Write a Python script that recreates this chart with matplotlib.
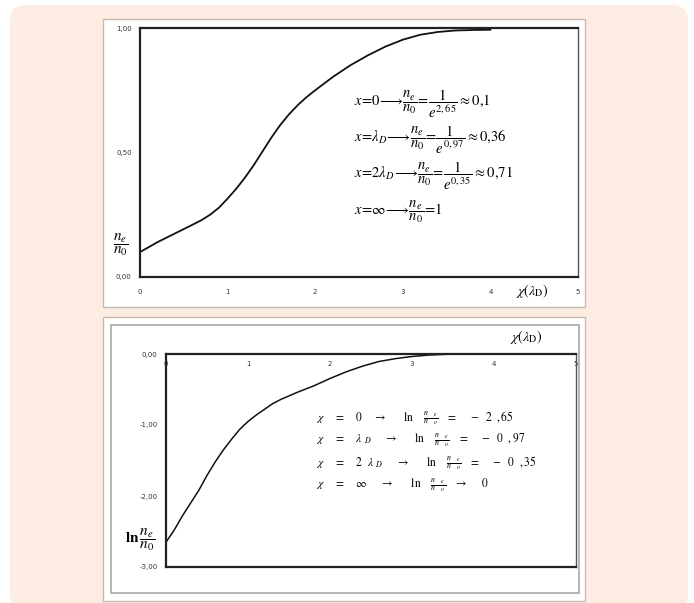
import matplotlib.pyplot as plt
from matplotlib.patches import FancyBboxPatch, Rectangle

plt.rcParams['mathtext.fontset'] = 'stix'

# top chart: n_e / n_0 against x in Debye lengths
top_x = [0, 0.2, 0.4, 0.6, 0.7, 0.8, 0.9, 1.0, 1.1, 1.2, 1.3, 1.4, 1.5, 1.6, 1.7,
         1.8, 1.9, 2.0, 2.2, 2.4, 2.6, 2.8, 3.0, 3.2, 3.4, 3.6, 3.8, 4.0]
top_y = [0.10, 0.14, 0.175, 0.21, 0.228, 0.25, 0.278, 0.315, 0.355, 0.40, 0.45,
         0.505, 0.56, 0.61, 0.653, 0.69, 0.722, 0.75, 0.803, 0.85, 0.89, 0.925,
         0.953, 0.973, 0.984, 0.99, 0.992, 0.993]
top_yticks = [0, 0.5, 1.0]
top_ylabels = ['0,00', '0,50', '1,00']

# bottom chart: ln(n_e / n_0)
bot_x = [0, 0.1, 0.2, 0.3, 0.4, 0.5, 0.6, 0.7, 0.8, 0.9, 1.0, 1.1, 1.2, 1.3, 1.4,
         1.5, 1.6, 1.8, 2.0, 2.2, 2.4, 2.6, 2.8, 3.0, 3.2, 3.4, 3.6, 3.8, 4.0]
bot_y = [-2.65, -2.48, -2.28, -2.10, -1.92, -1.71, -1.52, -1.35, -1.20, -1.06,
         -0.95, -0.86, -0.78, -0.70, -0.64, -0.59, -0.54, -0.45, -0.345, -0.25,
         -0.17, -0.105, -0.065, -0.035, -0.015, -0.005, 0, 0, 0]
bot_yticks = [-3, -2, -1, 0]
bot_ylabels = ['-3,00', '-2,00', '-1,00', '0,00']

xticks = [0, 1, 2, 3, 4, 5]

W, H = 694, 603
fig = plt.figure(figsize=(W / 100, H / 100), dpi=100)
fig.patch.set_facecolor('white')


def fx(px):
    return px / W


def fy(py):
    return 1 - py / H


# peach background with rounded corners, then white panels (behind the axes)
fig.patches.append(FancyBboxPatch((fx(10), fy(610)), fx(678), (610 - 5) / H,
                                  boxstyle='round,pad=0,rounding_size=0.025',
                                  transform=fig.transFigure, fc='#fcece1', ec='none',
                                  zorder=-10))
fig.patches.append(Rectangle((fx(103), fy(307)), fx(482), (307 - 19) / H,
                             transform=fig.transFigure, fc='white', ec='#c9b9b0', lw=1,
                             zorder=-9))
fig.patches.append(Rectangle((fx(103), fy(601)), fx(482), (601 - 317) / H,
                             transform=fig.transFigure, fc='white', ec='#c9b9b0', lw=1,
                             zorder=-9))
fig.patches.append(Rectangle((fx(111), fy(593)), fx(468), (593 - 325) / H,
                             transform=fig.transFigure, fc='white', ec='#a8a8a8', lw=1.2,
                             zorder=-8))

# ---- top chart ----
ax1 = fig.add_axes([fx(140), fy(277), fx(438), (277 - 28) / H])
ax1.patch.set_alpha(0)
ax1.plot(top_x, top_y, color='#111111', lw=1.3)
ax1.set_xlim(0, 5)
ax1.set_ylim(0, 1)
ax1.set_xticks(xticks)
ax1.set_yticks(top_yticks)
ax1.set_yticklabels(top_ylabels)
ax1.tick_params(length=0, labelsize=5, colors='#333333', pad=6)
ax1.tick_params(axis='x', pad=9)
for s in ['left', 'bottom', 'top']:
    ax1.spines[s].set_linewidth(1.6)
    ax1.spines[s].set_color('#222222')
ax1.spines['right'].set_linewidth(1.0)
ax1.spines['right'].set_color('#555555')

fig.text(fx(121), fy(245), r'$\dfrac{n_e}{n_0}$', fontsize=11, ha='center', va='center')
fig.text(fx(532), fy(291), r'$\chi(\lambda_\mathrm{D})$', fontsize=10, ha='center', va='center')

top_lines = [
    r'$x\!=\!0\!\longrightarrow\!\dfrac{n_e}{n_0}\!=\!\dfrac{1}{e^{2,65}}\approx 0{,}1$',
    r'$x\!=\!\lambda_D\!\longrightarrow\!\dfrac{n_e}{n_0}\!=\!\dfrac{1}{e^{0,97}}\approx 0{,}36$',
    r'$x\!=\!2\lambda_D\!\longrightarrow\!\dfrac{n_e}{n_0}\!=\!\dfrac{1}{e^{0,35}}\approx 0{,}71$',
    r'$x\!=\!\infty\!\longrightarrow\!\dfrac{n_e}{n_0}\!=\!1$',
]
for i, s in enumerate(top_lines):
    fig.text(fx(354), fy(104 + 36 * i), s, fontsize=10.5, ha='left', va='center')

# ---- bottom chart ----
ax2 = fig.add_axes([fx(166), fy(567), fx(410), (567 - 354) / H])
ax2.patch.set_alpha(0)
ax2.plot(bot_x, bot_y, color='#111111', lw=1.1)
ax2.set_xlim(0, 5)
ax2.set_ylim(-3, 0)
ax2.set_xticks(xticks)
ax2.set_yticks(bot_yticks)
ax2.set_yticklabels(bot_ylabels)
ax2.xaxis.tick_top()
ax2.tick_params(length=0, labelsize=5, colors='#333333', pad=6)
ax2.tick_params(axis='x', pad=-9)
for s in ['left', 'bottom', 'top']:
    ax2.spines[s].set_linewidth(1.6)
    ax2.spines[s].set_color('#222222')
ax2.spines['right'].set_linewidth(1.0)
ax2.spines['right'].set_color('#555555')

fig.text(fx(140), fy(540), r'$\mathbf{ln}\,\dfrac{n_e}{n_0}$', fontsize=11, ha='center', va='center')
fig.text(fx(526), fy(337), r'$\chi(\lambda_\mathrm{D})$', fontsize=10, ha='center', va='center')

fr = r'\frac{n\ \ \ _e}{n\ \ \ _o}'
bot_lines = [
    r'$\chi\quad\ =\quad\ 0\quad\ \rightarrow\quad\ \ \ \mathrm{ln}\quad\ ' + fr
    + r'\quad=\quad\ -\ \ 2\ \ ,65$',
    r'$\chi\quad\ =\quad\ \lambda\ _D\quad\ \ \rightarrow\quad\ \ \ \mathrm{ln}\quad\ ' + fr
    + r'\quad=\quad\ -\ \ 0\ \ ,97$',
    r'$\chi\quad\ =\quad\ 2\ \ \lambda\ _D\quad\ \ \rightarrow\quad\ \ \ \mathrm{ln}\quad\ ' + fr
    + r'\quad=\quad\ -\ \ 0\ \ ,35$',
    r'$\chi\quad\ =\quad\ \infty\quad\ \ \rightarrow\quad\ \ \ \mathrm{ln}\quad\ ' + fr
    + r'\quad\rightarrow\quad\ \ 0$',
]
for i, s in enumerate(bot_lines):
    fig.text(fx(316), fy(418 + 22.5 * i), s, fontsize=8.3, ha='left', va='center')

fig.savefig('out.png', dpi=100)
